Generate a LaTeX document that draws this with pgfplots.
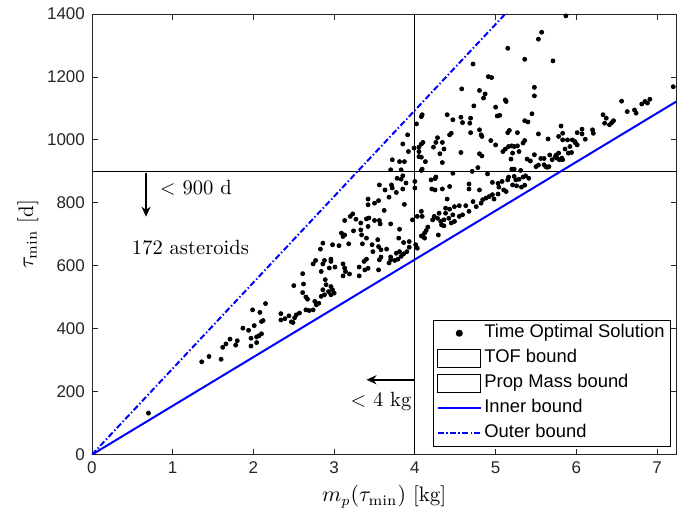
\documentclass[border=0pt]{standalone}
\usepackage{pgfplots}
\pgfplotsset{compat=1.18}
\usepackage{pgfplotstable}
\usepackage{fontspec}
\newfontfamily\arial{Liberation Sans}
\usetikzlibrary{arrows.meta}

\pgfplotstableread{
x y
0.70 132
1.36 295
1.45 312
1.60 303
1.62 341
1.66 352
1.71 367
1.78 348
1.80 362
1.87 402
1.94 395
1.99 460
2.01 410
1.97 370
1.97 345
2.04 356
2.04 374
2.07 378
2.10 384
2.08 452
2.10 423
2.12 426
2.15 480
2.34 448
2.34 428
2.39 432
2.44 441
2.47 422
2.49 420
2.51 435
3.78 878
3.83 875
3.89 863
4.00 868
4.00 847
3.56 857
3.63 841
3.71 857
3.72 847
3.77 833
3.85 844
3.68 818
3.87 795
3.42 812
3.42 794
3.50 799
3.55 807
3.62 776
3.97 746
4.03 757
3.23 765
3.20 757
3.13 744
3.27 748
3.33 736
3.40 749
3.43 752
3.42 725
3.50 744
3.56 744
3.57 733
3.70 733
3.81 716
3.80 688
3.86 674
3.93 677
4.01 667
4.03 656
3.09 704
3.11 693
3.13 698
3.18 670
3.24 711
3.33 714
3.34 698
3.40 688
3.35 670
3.47 667
3.54 683
3.55 661
3.48 645
3.58 651
3.58 628
3.65 653
3.70 628
3.68 609
3.70 619
3.75 617
3.79 621
3.77 640
3.81 645
3.90 645
3.93 659
2.86 672
2.83 653
2.77 617
2.74 606
2.98 667
3.06 664
2.96 621
2.96 614
2.88 617
2.86 606
2.84 582
2.94 593
3.01 596
3.11 606
3.13 593
3.14 582
3.19 574
3.11 568
3.31 596
3.31 568
3.37 614
3.40 621
3.42 592
3.38 587
3.56 619
3.55 587
2.61 575
2.50 537
2.62 542
2.61 515
2.65 501
2.67 494
2.76 487
2.78 476
2.81 481
2.84 503
2.86 524
2.89 556
2.90 540
2.93 518
2.96 534
2.98 524
3.00 513
2.96 508
2.88 508
2.53 444
2.57 450
2.65 460
2.69 458
2.74 460
4.09 1080
4.08 1074
4.02 1051
4.40 1080
4.47 1064
4.57 1072
4.59 1055
4.69 1069
4.68 1053
4.73 1108
5.00 1104
5.02 1076
5.05 1078
5.13 1122
4.69 1023
4.43 1016
4.45 1021
4.80 1032
4.82 1016
4.83 1011
4.94 998
5.00 984
5.15 1023
5.17 1030
5.27 1023
5.36 1061
5.40 1057
5.45 1083
5.53 1019
3.85 987
3.99 974
4.05 977
4.08 987
4.10 992
4.05 963
4.05 947
4.08 945
4.13 931
4.23 977
4.26 992
4.28 1007
4.34 992
4.36 971
4.31 956
4.34 928
4.57 960
4.80 956
4.83 949
5.09 963
5.12 971
5.16 979
5.20 981
5.23 979
5.21 958
5.19 939
5.27 981
5.34 990
5.36 998
5.29 963
5.39 939
5.43 933
5.48 953
5.53 920
3.81 931
3.87 931
3.83 905
4.08 903
4.09 907
4.47 894
4.71 900
4.78 912
4.90 892
5.20 907
5.23 907
5.31 903
5.50 915
4.20 873
4.25 877
4.26 882
4.21 844
4.25 841
4.34 844
4.43 852
4.67 860
4.67 844
4.80 841
4.96 865
5.03 862
5.08 868
5.15 873
5.16 882
5.23 884
5.25 873
5.29 875
5.34 882
5.37 886
5.41 878
5.21 857
5.26 854
5.32 850
5.36 856
5.04 850
5.10 841
5.13 836
5.03 828
4.96 826
4.92 820
4.98 812
4.88 815
4.84 810
4.82 799
4.76 788
4.72 804
4.67 773
4.63 791
4.55 791
4.49 788
4.43 780
4.38 767
4.47 762
4.55 757
4.59 762
4.42 751
4.36 746
4.32 741
4.33 730
4.36 727
4.45 736
4.49 741
4.30 767
4.24 757
4.22 746
4.28 751
4.40 812
4.38 783
3.85 886
4.08 773
4.09 757
4.16 723
4.14 712
4.12 704
4.10 693
4.08 695
4.12 688
4.29 698
3.86 638
3.83 630
3.91 1016
3.92 963
3.72 937
3.70 905
5.71 1251
5.48 1167
5.48 1140
5.65 1003
5.56 941
5.60 941
5.60 921
5.62 915
5.64 913
5.66 915
5.67 952
5.70 937
5.74 947
5.75 952
5.76 942
5.78 958
5.79 937
5.82 942
5.83 937
5.78 1011
5.81 1044
5.83 1021
5.83 1000
5.86 971
5.89 1000
5.90 958
5.92 979
5.94 960
5.95 1000
5.98 995
5.99 990
6.01 984
6.01 1023
6.07 1034
6.07 1019
6.11 1002
6.20 1032
6.21 1021
6.33 1080
6.37 1069
6.35 1053
6.41 1048
6.44 1055
6.46 1061
6.56 1123
6.63 1090
6.72 1095
6.74 1085
6.81 1114
6.85 1122
6.88 1117
6.91 1129
7.20 1169
5.87 1394
6.02 1402
5.57 1342
5.53 1320
5.15 1291
5.36 1256
4.72 1241
4.91 1201
4.95 1198
4.58 1162
4.80 1157
4.87 1146
4.85 1133
5.12 1127
}\scatterdata

\begin{document}
\begin{tikzpicture}
\begin{axis}[
  width=292.5pt, height=220.5pt, scale only axis,
  xmin=0, xmax=7.24, ymin=0, ymax=1400,
  xtick={0,1,2,3,4,5,6,7},
  ytick={0,200,400,600,800,1000,1200,1400},
  tick align=inside, major tick length=3pt,
  axis line style={black!85, line width=0.4pt},
  tick style={black!85, line width=0.4pt},
  ticklabel style={font=\arial\fontsize{8.5}{10}\selectfont, text=black!85},
  /pgf/number format/assume math mode=true,
  /pgf/number format/1000 sep={},
  xlabel={$m_p(\tau_{\min})$ [kg]},
  ylabel={$\tau_{\min}$ [d]},
  label style={font=\fontsize{10.5}{12}\selectfont},
  xlabel style={at={([yshift=-21pt]axis description cs:0.5,0)}, anchor=center},
  ylabel style={at={([xshift=-32pt]axis description cs:0,0.5)}, anchor=center},
  legend style={at={(0.99,0.018)}, anchor=south east, draw=black, line width=0.5pt,
    font=\arial\fontsize{9.2}{10}\selectfont, inner xsep=1.5pt, inner ysep=0.3pt,
    row sep=0pt,
    nodes={inner xsep=1.3pt, inner ysep=2.3pt, text height=6.2pt, text depth=1.7pt}},
  legend cell align=left,
]
\draw[black, line width=0.5pt] (axis cs:4,0) -- (axis cs:4,1400);
\draw[black, line width=0.5pt] (axis cs:0,900) -- (axis cs:7.24,900);

\addplot[only marks, mark=*, mark size=1.0pt, draw=black, fill=black,
  legend image code/.code={\fill[black] (10.75pt,0pt) circle (1.5pt); \path (0pt,0pt) (21.5pt,0pt);}]
  table[x=x, y=y] {\scatterdata};
\addlegendentry{Time Optimal Solution}
\addlegendimage{legend image code/.code={\draw[black, fill=white, line width=0.5pt] (0pt,-4.5pt) rectangle (21.5pt,4.5pt);}}
\addlegendentry{TOF bound}
\addlegendimage{legend image code/.code={\draw[black, fill=white, line width=0.5pt] (0pt,-4.5pt) rectangle (21.5pt,4.5pt);}}
\addlegendentry{Prop Mass bound}
\addplot[blue, line width=1pt,
  legend image code/.code={\draw[blue, line width=1pt] (0pt,0pt) -- (21.5pt,0pt);}]
  coordinates {(0,0) (7.3,1131.5)};
\addlegendentry{Inner bound}
\addplot[blue, line width=1pt, dash pattern=on 3pt off 1.2pt on 0.7pt off 1.2pt,
  legend image code/.code={\draw[blue, line width=1pt, dash pattern=on 3pt off 1.2pt on 0.7pt off 1.2pt] (0pt,0pt) -- (21.5pt,0pt);}]
  coordinates {(0,0) (5.2,1422.2)};
\addlegendentry{Outer bound}

\draw[-{Stealth[length=5pt,width=4.5pt]}, line width=1pt] (axis cs:0.67,895) -- (axis cs:0.67,756);
\draw[-{Stealth[length=5pt,width=4.5pt]}, line width=1pt] (axis cs:4,238) -- (axis cs:3.40,238);
\node[anchor=west, font=\fontsize{10.3}{12}\selectfont, inner sep=0pt] at (axis cs:0.84,848) {$<$ 900 d};
\node[font=\fontsize{10.3}{12}\selectfont, inner sep=0pt] at (axis cs:1.22,657) {172 asteroids};
\node[font=\fontsize{10.3}{12}\selectfont, inner sep=0pt] at (axis cs:3.58,168) {$<$ 4 kg};
\end{axis}
\pgfresetboundingbox
\path ([shift={(-46pt,-32.5pt)}]current axis.south west) rectangle ([shift={(0.25pt,7pt)}]current axis.north east);
\end{tikzpicture}
\end{document}
